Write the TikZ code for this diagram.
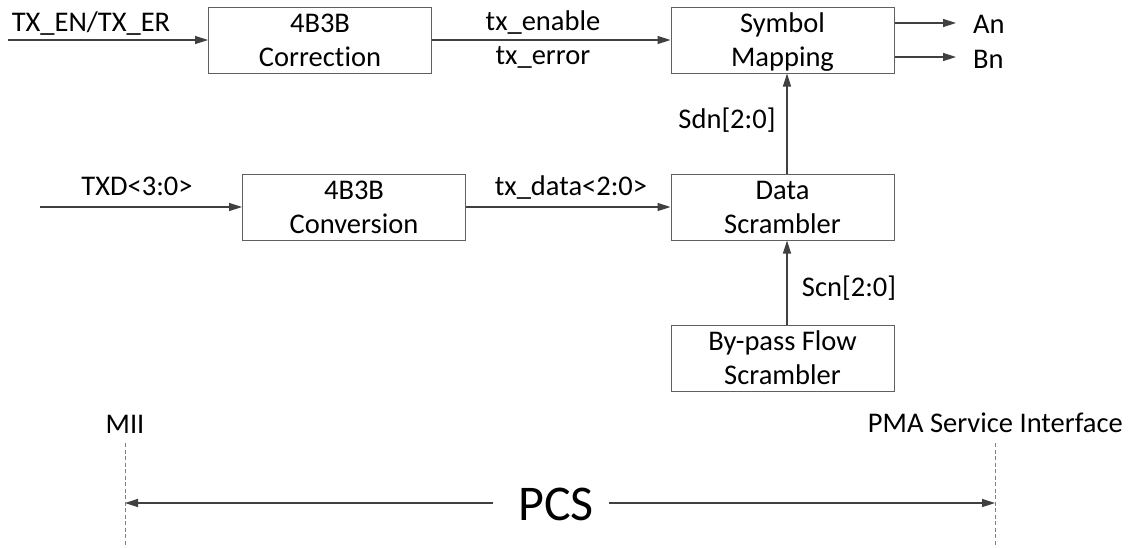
\documentclass[tikz,border=0pt]{standalone}
\usepackage{fontspec}
\setmainfont[Ligatures={NoCommon}]{Carlito}
\usetikzlibrary{arrows.meta}
\definecolor{linec}{HTML}{404040}
\definecolor{boxc}{HTML}{606060}
\begin{document}
\begin{tikzpicture}[x=1pt,y=-1pt,
  blk/.style={draw=boxc,line width=1pt,minimum width=223pt,minimum height=66pt,inner sep=0pt,align=center,text depth=0pt,font=\fontsize{28.5}{34}\selectfont},
  lbl/.style={inner sep=0pt,anchor=base,font=\fontsize{28.5}{34}\selectfont},
  arr/.style={draw=linec,line width=1.4pt,-{Triangle[length=13pt,width=8pt]}},
  guide/.style={draw=gray,line width=0.8pt,dash pattern=on 4pt off 2.5pt}]
\useasboundingbox (0,0) rectangle (1131,547);
% blocks
\node[blk] (corr) at (320,40) {4B3B\\Correction};
\node[blk] (sym) at (782.5,40) {Symbol\\Mapping};
\node[blk] (conv) at (354,207) {4B3B\\Conversion};
\node[blk] (scr) at (782.5,207) {Data\\Scrambler};
\node[blk] (byp) at (782.5,358) {By-pass Flow\\Scrambler};
% free ends
\coordinate (txen) at (8,40);
\coordinate (txd) at (40,207);
\coordinate (an) at (956,23);
\coordinate (bn) at (956,57);
% connectors
\draw[arr] (txen) -- (corr.west);
\draw[arr] (corr.east) -- (sym.west);
\draw[arr] (conv.east) -- (scr.west);
\draw[arr] (txd) -- (conv.west);
\draw[arr] (sym.east |- an) -- (an);
\draw[arr] (sym.east |- bn) -- (bn);
\draw[arr] ([xshift=4.5pt]scr.north) -- ([xshift=4.5pt]sym.south);
\draw[arr] ([xshift=4.5pt]byp.north) -- ([xshift=4.5pt]scr.south);
% labels
\node[lbl] (l1) at (91,31) {TX\_EN/TX\_ER};
\node[lbl] (l2) at (543,30) {tx\_enable};
\node[lbl] (l3) at (543,64) {tx\_error};
\node[lbl,anchor=base west] (l4) at (973,33) {An};
\node[lbl,anchor=base west] (l5) at (973,68) {Bn};
\node[lbl] (l6) at (727,128) {Sdn[2:0]};
\node[lbl] (l7) at (137,195) {TXD<3:0>};
\node[lbl] (l8) at (571,195) {tx\_data<2:0>};
\node[lbl] (l9) at (849,296) {Scn[2:0]};
\node[lbl] (l10) at (125,433) {MII};
\node[lbl,anchor=base east] (l11) at (1123,432) {PMA Service Interface};
% PCS span
\coordinate (miitop) at (125,443);
\coordinate (miibot) at (125,547);
\coordinate (pmatop) at (995,443);
\coordinate (pmabot) at (995,547);
\draw[guide] (miitop) -- (miibot);
\draw[guide] (pmatop) -- (pmabot);
\node[inner sep=0pt,font=\fontsize{50}{56}\selectfont] (pcs) at (556,504) {PCS};
\coordinate (pl) at (493,503);
\coordinate (pr) at (609,503);
\draw[arr] (pl) -- (miitop |- pl);
\draw[arr] (pr) -- (pmatop |- pr);
\end{tikzpicture}
\end{document}
